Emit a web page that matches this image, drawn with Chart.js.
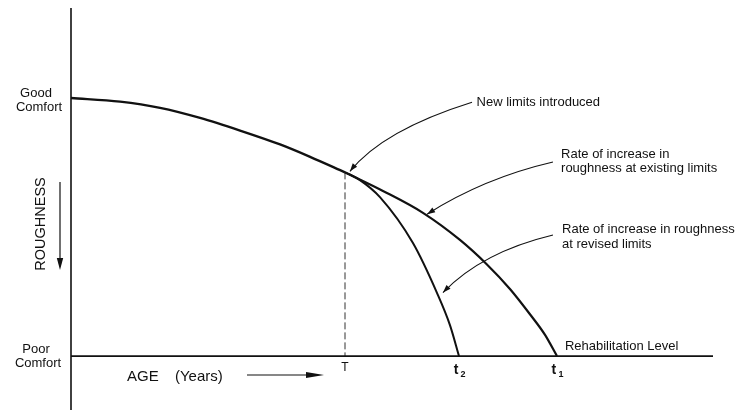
<!DOCTYPE html>
<html>
<head>
<meta charset="utf-8">
<script src="https://cdn.jsdelivr.net/npm/chart.js@4.4.0/dist/chart.umd.min.js"></script>
<style>
  html, body { margin: 0; padding: 0; background: #fff; }
  #wrap { width: 736px; height: 417px; }
</style>
</head>
<body>
<div id="wrap"><canvas id="roughChart" width="736" height="417"></canvas></div>
<script>
// age in years (schematic), serviceability: 10 = good comfort, 0 = poor comfort
const T = 20, t2 = 28.32, t1 = 35.47;

const beforeX = [0, 3.58, 6.5, 9.42, 12.34, 15.26, 17.45, T];
const beforeY = [10, 9.86, 9.62, 9.23, 8.74, 8.2, 7.72, 7.12];

const existingX = [T, 22.77, 25.69, 28.39, 30.36, 32.04, 33.5, 34.6, t1];
const existingY = [7.12, 6.40, 5.55, 4.50, 3.55, 2.60, 1.62, 0.82, 0];

const revisedX = [T, 21.09, 22.55, 24.96, 26.72, 27.66, t2];
const revisedY = [7.12, 6.82, 6.16, 4.38, 2.44, 1.2, 0];

const tickLabels = [['T', ''], ['t', '2'], ['t', '1']];
const tickValues = [T, t2, t1];

const xMin = 0, xMax = 46.86, yMin = -2.09, yMax = 13.49;

const pts = (xs, ys) => xs.map((x, i) => ({ x: x, y: ys[i] }));

const FONT = '"Liberation Sans", Arial, sans-serif';

function arrowHead(c, x, y, ang, len, wid) {
  c.beginPath();
  c.moveTo(x, y);
  c.lineTo(x - len * Math.cos(ang) + wid * Math.sin(ang), y - len * Math.sin(ang) - wid * Math.cos(ang));
  c.lineTo(x - len * Math.cos(ang) - wid * Math.sin(ang), y - len * Math.sin(ang) + wid * Math.cos(ang));
  c.closePath();
  c.fill();
}

// curved pointer arrows: start, control, tip (in data units)
const pointers = [
  [[29.27, 9.84], [22.77, 8.76], [20.36, 7.16]],
  [[35.18, 7.52], [30.15, 6.90], [25.99, 5.50]],
  [[35.18, 4.69], [30.0, 4.03], [27.15, 2.46]]
];

const notes = [
  ['New limits introduced', 29.6, 9.84],
  ['Rate of increase in', 35.77, 7.83],
  ['roughness at existing limits', 35.77, 7.29],
  ['Rate of increase in roughness', 35.84, 4.92],
  ['at revised limits', 35.84, 4.34],
  ['Rehabilitation Level', 36.05, 0.39]
];

const drawExtras = {
  id: 'drawExtras',
  afterDatasetsDraw(chart) {
    const c = chart.ctx;
    const xs = chart.scales.x, ys = chart.scales.y;
    const px = v => xs.getPixelForValue(v);
    const py = v => ys.getPixelForValue(v);
    c.save();
    c.strokeStyle = '#111';
    c.fillStyle = '#111';

    // vertical axis
    c.lineWidth = 1.6;
    c.beginPath();
    c.moveTo(px(xMin), chart.chartArea.top);
    c.lineTo(px(xMin), chart.chartArea.bottom);
    c.stroke();

    // left labels
    c.textAlign = 'center';
    c.textBaseline = 'middle';
    c.font = '13px ' + FONT;
    c.fillText('Good', 36, py(10) - 5);
    c.fillText('Comfort', 39, py(10) + 9);
    c.fillText('Poor', 36, py(0) - 7);
    c.fillText('Comfort', 38, py(0) + 7);

    c.save();
    c.translate(41, 224);
    c.rotate(-Math.PI / 2);
    c.font = '14.5px ' + FONT;
    c.fillText('ROUGHNESS', 0, 0);
    c.restore();

    // roughness arrow
    c.lineWidth = 1.2;
    c.beginPath();
    c.moveTo(60, 182);
    c.lineTo(60, 262);
    c.stroke();
    arrowHead(c, 60, 270, Math.PI / 2, 12, 3.2);

    // age label and arrow
    c.textAlign = 'left';
    c.font = '15px ' + FONT;
    c.fillText('AGE', 127, 377);
    c.fillText('(Years)', 175, 377);
    c.lineWidth = 1.2;
    c.beginPath();
    c.moveTo(247, 375);
    c.lineTo(310, 375);
    c.stroke();
    arrowHead(c, 324, 375, 0, 18, 3);

    // tick labels T, t2, t1
    tickValues.forEach((v, i) => {
      const [main, sub] = tickLabels[i];
      c.textAlign = 'center';
      if (sub) {
        c.font = 'bold 14px ' + FONT;
        const xx = px(v) - 3;
        c.fillText(main, xx, py(0) + 14);
        c.font = 'bold 9px ' + FONT;
        c.fillText(sub, xx + 7, py(0) + 18);
      } else {
        c.font = '12px ' + FONT;
        c.fillText(main, px(v), py(0) + 12);
      }
    });

    // notes
    c.textAlign = 'left';
    c.font = '13px ' + FONT;
    notes.forEach(([txt, x, y]) => c.fillText(txt, px(x), py(y)));

    // pointer arrows
    c.lineWidth = 1.1;
    pointers.forEach(([s, k, e]) => {
      const sx = px(s[0]), sy = py(s[1]);
      const cx = px(k[0]), cy = py(k[1]);
      const ex = px(e[0]), ey = py(e[1]);
      c.beginPath();
      c.moveTo(sx, sy);
      c.quadraticCurveTo(cx, cy, ex, ey);
      c.stroke();
      const ang = Math.atan2(ey - cy, ex - cx);
      arrowHead(c, ex, ey, ang, 8, 2.8);
    });
    c.restore();
  }
};

const ctx = document.getElementById('roughChart').getContext('2d');
const roughChart = new Chart(ctx, {
  type: 'line',
  data: {
    datasets: [
      {
        label: 'Before new limits',
        data: pts(beforeX, beforeY),
        borderColor: '#111',
        borderWidth: 2.4,
        pointRadius: 0,
        cubicInterpolationMode: 'monotone'
      },
      {
        label: 'Existing limits',
        data: pts(existingX, existingY),
        borderColor: '#111',
        borderWidth: 2.2,
        pointRadius: 0,
        cubicInterpolationMode: 'monotone'
      },
      {
        label: 'Revised limits',
        data: pts(revisedX, revisedY),
        borderColor: '#111',
        borderWidth: 2,
        pointRadius: 0,
        cubicInterpolationMode: 'monotone'
      },
      {
        label: 'Rehabilitation level',
        data: pts([xMin, xMax], [0, 0]),
        borderColor: '#111',
        borderWidth: 1.8,
        pointRadius: 0
      },
      {
        label: 'T',
        data: pts([T, T], [7.12, 0]),
        borderColor: '#333',
        borderWidth: 1,
        borderDash: [7, 3],
        pointRadius: 0
      }
    ]
  },
  options: {
    responsive: false,
    animation: false,
    layout: { padding: { left: 71, right: 23, top: 8, bottom: 7 } },
    plugins: {
      legend: { display: false },
      tooltip: { enabled: false }
    },
    scales: {
      x: { type: 'linear', min: xMin, max: xMax, display: false },
      y: { type: 'linear', min: yMin, max: yMax, display: false }
    }
  },
  plugins: [drawExtras]
});
</script>
</body>
</html>
